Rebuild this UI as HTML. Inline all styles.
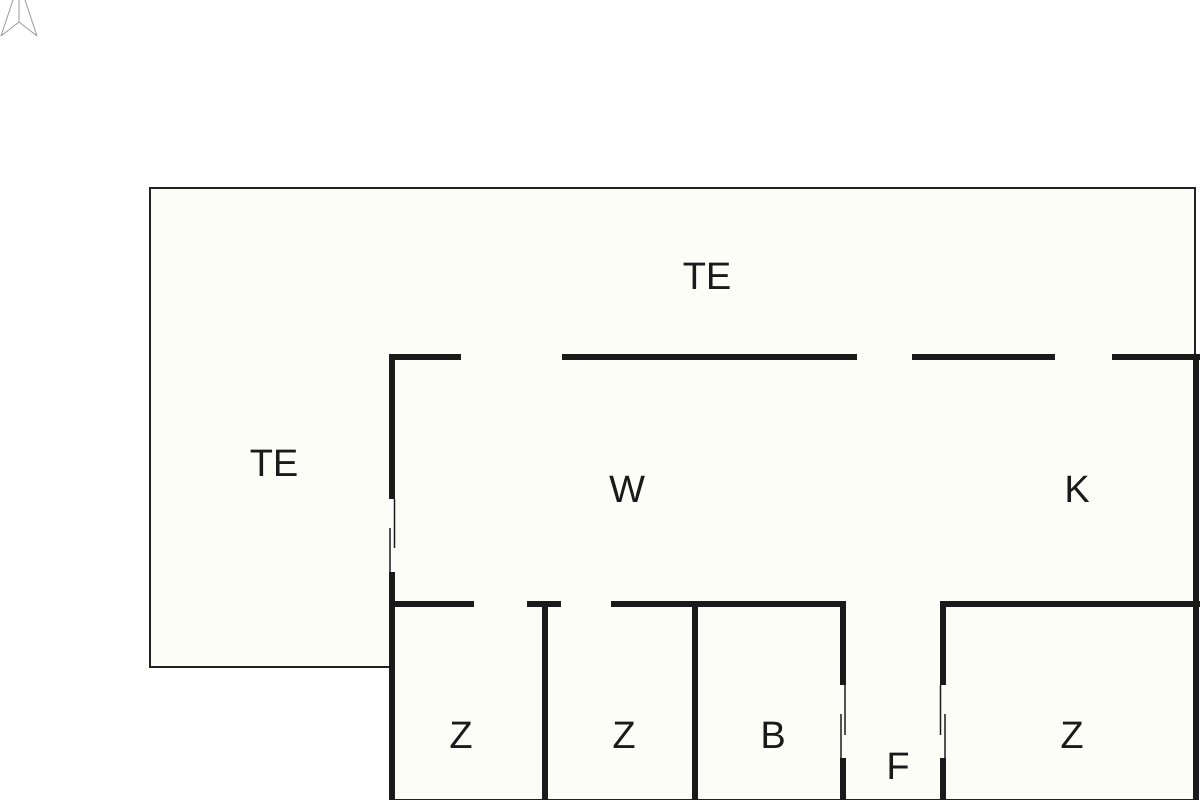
<!DOCTYPE html>
<html><head><style>html,body{margin:0;padding:0;background:#fff;width:1200px;height:800px;overflow:hidden}</style></head>
<body>
<svg width="1200" height="800" viewBox="0 0 1200 800" xmlns="http://www.w3.org/2000/svg">
<rect width="1200" height="800" fill="#fff"/>
<g stroke="#999" stroke-width="1" fill="none">
<path d="M1 36 L13 0 M37 36 L25 0 M1 36 L19 22 L37 36 M19 22 L19 0"/>
</g>
<path d="M150 188 H1195 V800 H392 V667 H150 Z" fill="#fdfdf8" stroke="#222" stroke-width="2"/>
<g stroke="#1a1a1a" stroke-width="6" fill="none" stroke-linecap="butt">
<line x1="389" y1="357" x2="461" y2="357"/>
<line x1="562" y1="357" x2="857" y2="357"/>
<line x1="912" y1="357" x2="1055" y2="357"/>
<line x1="1112" y1="357" x2="1200" y2="357"/>
<line x1="1196" y1="354" x2="1196" y2="800"/>
<line x1="392" y1="354" x2="392" y2="499"/>
<line x1="392" y1="572" x2="392" y2="800"/>
<line x1="390" y1="604" x2="474" y2="604"/>
<line x1="527" y1="604" x2="561" y2="604"/>
<line x1="611" y1="604" x2="846" y2="604"/>
<line x1="940" y1="604" x2="1200" y2="604"/>
<line x1="545" y1="604" x2="545" y2="800"/>
<line x1="695" y1="604" x2="695" y2="800"/>
<line x1="843" y1="601" x2="843" y2="685"/>
<line x1="843" y1="758" x2="843" y2="800"/>
<line x1="943" y1="601" x2="943" y2="685"/>
<line x1="943" y1="758" x2="943" y2="800"/>
</g>
<g stroke="#1a1a1a" stroke-width="1.5">
<line x1="394.5" y1="499" x2="394.5" y2="548"/>
<line x1="390" y1="528" x2="390" y2="572"/>
<line x1="845" y1="685" x2="845" y2="735"/>
<line x1="841" y1="714" x2="841" y2="758"/>
<line x1="940.5" y1="685" x2="940.5" y2="735"/>
<line x1="945" y1="714" x2="945" y2="758"/>
</g>
<g font-family="Liberation Sans, sans-serif" font-size="38" fill="#1a1a1a" text-anchor="middle">
<text x="707" y="289">TE</text>
<text x="274" y="476">TE</text>
<text x="627" y="502">W</text>
<text x="1077" y="502">K</text>
<text x="461" y="748">Z</text>
<text x="624" y="748">Z</text>
<text x="773" y="748">B</text>
<text x="898" y="779">F</text>
<text x="1072" y="748">Z</text>
</g>
</svg>
</body></html>
